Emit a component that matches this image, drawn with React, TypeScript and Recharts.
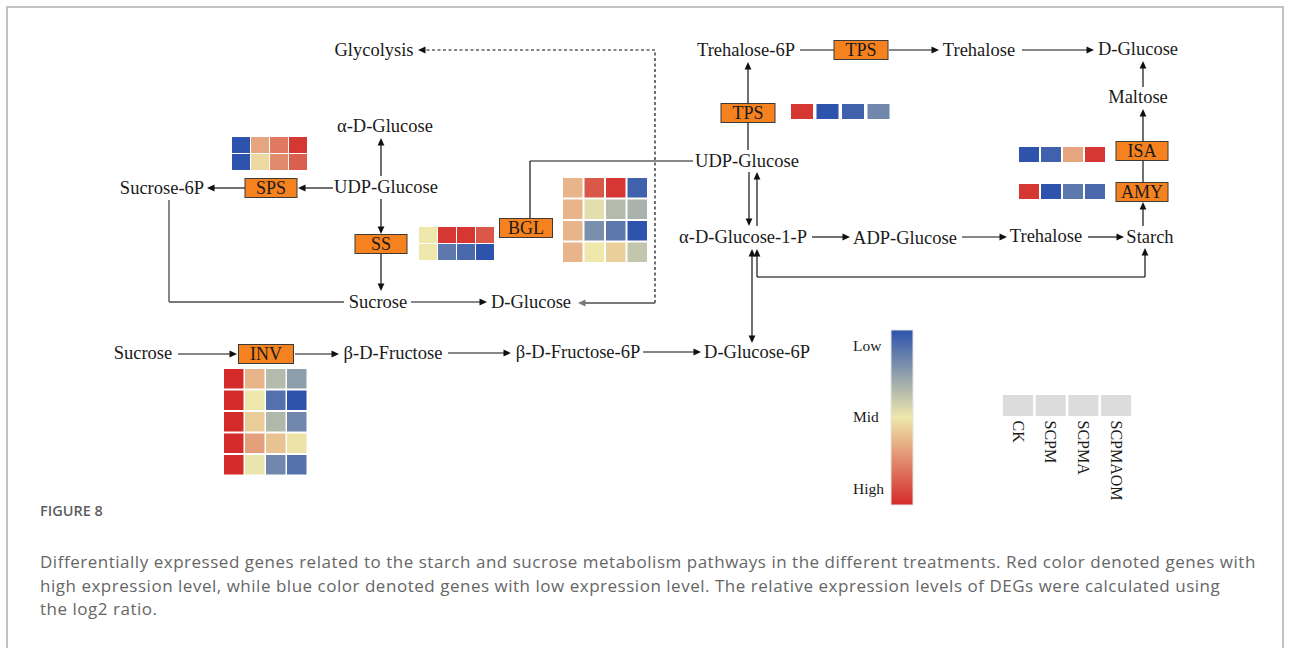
import React from "react";
import {
  ScatterChart,
  Scatter,
  XAxis,
  YAxis,
  ReferenceLine,
  ReferenceArea,
} from "recharts";

// metabolites (label centres in diagram units, 1 unit = 1px)
const metabolites = [
  { label: "Glycolysis", x: 374, y: 50 },
  { label: "α-D-Glucose", x: 385, y: 126 },
  { label: "UDP-Glucose", x: 386, y: 187 },
  { label: "Sucrose-6P", x: 162, y: 188 },
  { label: "Sucrose", x: 378, y: 302 },
  { label: "D-Glucose", x: 531, y: 302 },
  { label: "Sucrose", x: 143, y: 353 },
  { label: "β-D-Fructose", x: 393, y: 353 },
  { label: "β-D-Fructose-6P", x: 578, y: 352 },
  { label: "D-Glucose-6P", x: 757, y: 352 },
  { label: "Trehalose-6P", x: 746, y: 50 },
  { label: "Trehalose", x: 979, y: 50 },
  { label: "D-Glucose", x: 1138, y: 49 },
  { label: "Maltose", x: 1138, y: 97 },
  { label: "UDP-Glucose", x: 747, y: 161 },
  { label: "α-D-Glucose-1-P", x: 743, y: 237 },
  { label: "ADP-Glucose", x: 905, y: 238 },
  { label: "Trehalose", x: 1046, y: 236 },
  { label: "Starch", x: 1150, y: 237 },
];

const enzymes = [
  { label: "SPS", x: 271, y: 188, w: 52 },
  { label: "SS", x: 381, y: 244, w: 52 },
  { label: "BGL", x: 526, y: 228, w: 53 },
  { label: "INV", x: 266, y: 354, w: 55 },
  { label: "TPS", x: 861, y: 50, w: 54 },
  { label: "TPS", x: 748, y: 113, w: 54 },
  { label: "ISA", x: 1142, y: 151, w: 52 },
  { label: "AMY", x: 1142, y: 192, w: 52 },
];

// kind: arrow = black with head, both = head at each end, line = plain, gray = grey connector, dash = dashed arrow
const edges = [
  { from: [655, 303], to: [655, 50], kind: "dashLine" },
  { from: [655, 50], to: [418, 50], kind: "dash" },
  { from: [655, 303], to: [578, 303], kind: "grayArrow" },
  { from: [381, 176], to: [381, 138], kind: "arrow" },
  { from: [381, 199], to: [381, 234], kind: "arrow" },
  { from: [381, 254], to: [381, 291], kind: "arrow" },
  { from: [411, 302], to: [487, 302], kind: "arrow" },
  { from: [333, 188], to: [298, 188], kind: "arrow" },
  { from: [245, 188], to: [207, 188], kind: "arrow" },
  { from: [169, 200], to: [169, 302], kind: "gray" },
  { from: [169, 302], to: [344, 302], kind: "gray" },
  { from: [530, 218], to: [530, 161], kind: "line" },
  { from: [530, 161], to: [693, 161], kind: "line" },
  { from: [178, 354], to: [237, 354], kind: "arrow" },
  { from: [295, 354], to: [339, 354], kind: "arrow" },
  { from: [448, 353], to: [511, 353], kind: "arrow" },
  { from: [643, 352], to: [701, 352], kind: "arrow" },
  { from: [752, 249], to: [752, 343], kind: "both" },
  { from: [749, 172], to: [749, 226], kind: "arrow" },
  { from: [757, 226], to: [757, 172], kind: "arrow" },
  { from: [757, 277], to: [1145, 277], kind: "gray" },
  { from: [757, 277], to: [757, 249], kind: "arrow" },
  { from: [1145, 277], to: [1145, 248], kind: "arrow" },
  { from: [812, 237], to: [850, 237], kind: "arrow" },
  { from: [962, 237], to: [1007, 237], kind: "arrow" },
  { from: [1088, 237], to: [1124, 237], kind: "arrow" },
  { from: [1143, 226], to: [1143, 202], kind: "arrow" },
  { from: [1143, 183], to: [1143, 161], kind: "line" },
  { from: [1143, 142], to: [1143, 109], kind: "arrow" },
  { from: [1143, 87], to: [1143, 61], kind: "arrow" },
  { from: [748, 103], to: [748, 62], kind: "arrow" },
  { from: [748, 150], to: [748, 123], kind: "line" },
  { from: [800, 50], to: [834, 50], kind: "line" },
  { from: [889, 50], to: [939, 50], kind: "arrow" },
  { from: [1022, 50], to: [1094, 50], kind: "arrow" },
];

// expression levels per gene row (-1 low ... 1 high), columns CK, SCPM, SCPMA, SCPMAOM
const spsValues = [
  [-1, 0.35, 0.58, 0.93],
  [-1, 0.08, 0.49, 0.72],
];
const ssValues = [
  [0, 0.93, 0.93, 0.76],
  [0, -0.75, -0.85, -1],
];
const bglValues = [
  [0.27, 0.76, 0.93, -0.9],
  [0.27, -0.06, -0.3, -0.36],
  [0.27, -0.6, -0.75, -1],
  [0.27, 0, 0.13, -0.23],
];
const invValues = [
  [1, 0.27, -0.3, -0.5],
  [1, 0, -0.8, -1],
  [1, 0.15, -0.32, -0.65],
  [1, 0.38, 0.2, 0.03],
  [1, -0.02, -0.65, -0.8],
];
const tpsValues = [[0.93, -1, -0.9, -0.65]];
const isaValues = [[-1, -0.9, 0.35, 0.93]];
const amyValues = [[0.93, -1, -0.75, -0.85]];

const treatments = ["CK", "SCPM", "SCPMA", "SCPMAOM"];
const scaleLabels = [
  { label: "Low", y: 346 },
  { label: "Mid", y: 417 },
  { label: "High", y: 489 },
];

const heatmaps = [
  { values: spsValues, x0: 232, y0: 137, cw: 18, ch: 16, px: 19, py: 17 },
  { values: ssValues, x0: 419, y0: 227, cw: 18, ch: 16, px: 19, py: 17 },
  { values: bglValues, x0: 563, y0: 178, cw: 19.5, ch: 19.5, px: 21.5, py: 21.5 },
  { values: invValues, x0: 224, y0: 369, cw: 19.5, ch: 19.5, px: 21, py: 21.5 },
  { values: tpsValues, x0: 791, y0: 104, cw: 22, ch: 15, px: 25.5, py: 17 },
  { values: isaValues, x0: 1019, y0: 147, cw: 20, ch: 15, px: 22, py: 17 },
  { values: amyValues, x0: 1019, y0: 184, cw: 20, ch: 15, px: 22, py: 17 },
];

const LOW = [45, 83, 172];
const MID = [238, 232, 172];
const HIGH = [212, 42, 42];

const mix = (a: number[], b: number[], t: number) =>
  `rgb(${a.map((c, i) => Math.round(c + (b[i] - c) * t)).join(",")})`;
const heatColor = (v: number) => (v < 0 ? mix(MID, LOW, -v) : mix(MID, HIGH, v));

const cells = heatmaps.flatMap((h) =>
  h.values.flatMap((row, r) =>
    row.map((v, c) => ({
      x: h.x0 + c * h.px + h.cw / 2,
      y: h.y0 + r * h.py + h.ch / 2,
      v,
      cw: h.cw,
      ch: h.ch,
    }))
  )
);

const swatches = treatments.map((t, i) => ({ label: t, x: 1018 + i * 32.7, y: 405.5 }));

const FONT = "'Liberation Serif', 'Times New Roman', serif";
const INK = "#1a1a1a";

const MetaboliteShape = (p: any) => (
  <text x={p.cx} y={p.cy} dy="0.35em" textAnchor="middle" fontFamily={FONT} fontSize={18.5} fill={INK}>
    {p.payload.label}
  </text>
);

const EnzymeShape = (p: any) => (
  <g>
    <rect x={p.cx - p.payload.w / 2} y={p.cy - 9.5} width={p.payload.w} height={19} fill="#f5821f" stroke="#3a3a3a" strokeWidth={1} />
    <text x={p.cx} y={p.cy} dy="0.36em" textAnchor="middle" fontFamily={FONT} fontSize={18} fill={INK}>
      {p.payload.label}
    </text>
  </g>
);

const CellShape = (p: any) => (
  <rect
    x={p.cx - p.payload.cw / 2}
    y={p.cy - p.payload.ch / 2}
    width={p.payload.cw}
    height={p.payload.ch}
    fill={heatColor(p.payload.v)}
  />
);

const SwatchShape = (p: any) => (
  <g>
    <rect x={p.cx - 15} y={p.cy - 10.5} width={30} height={21} fill="#dcdcdc" />
    <text
      x={p.cx}
      y={p.cy + 15}
      transform={`rotate(90 ${p.cx} ${p.cy + 15})`}
      dominantBaseline="central"
      fontFamily={FONT}
      fontSize={16}
      fill={INK}
    >
      {p.payload.label}
    </text>
  </g>
);

const ScaleLabelShape = (p: any) => (
  <text x={p.cx} y={p.cy} dy="0.35em" fontFamily={FONT} fontSize={15.5} fill={INK}>
    {p.payload.label}
  </text>
);

const head = (tx: number, ty: number, ux: number, uy: number, fill: string) => {
  const L = 7.5;
  const W = 3.4;
  const bx = tx - ux * L;
  const by = ty - uy * L;
  return (
    <polygon
      points={`${tx},${ty} ${bx - uy * W},${by + ux * W} ${bx + uy * W},${by - ux * W}`}
      fill={fill}
    />
  );
};

const makeEdge = (kind: string) => (p: any) => {
  const { x1, y1, x2, y2 } = p;
  const len = Math.hypot(x2 - x1, y2 - y1) || 1;
  const ux = (x2 - x1) / len;
  const uy = (y2 - y1) / len;
  const gray = kind === "gray" || kind === "grayArrow";
  const color = gray ? "#7a7a7a" : "#111";
  const endHead = kind === "arrow" || kind === "both" || kind === "dash" || kind === "grayArrow";
  const startHead = kind === "both";
  const sx = startHead ? x1 + ux * 6 : x1;
  const sy = startHead ? y1 + uy * 6 : y1;
  const ex = endHead ? x2 - ux * 6 : x2;
  const ey = endHead ? y2 - uy * 6 : y2;
  const dashed = kind === "dash" || kind === "dashLine";
  return (
    <g>
      <line
        x1={sx}
        y1={sy}
        x2={ex}
        y2={ey}
        stroke={color}
        strokeWidth={gray ? 1.8 : 1.2}
        strokeDasharray={dashed ? "3 2.5" : undefined}
      />
      {endHead && head(x2, y2, ux, uy, color)}
      {startHead && head(x1, y1, -ux, -uy, color)}
    </g>
  );
};

const captionLines = [
  "Differentially expressed genes related to the starch and sucrose metabolism pathways in the different treatments. Red color denoted genes with",
  "high expression level, while blue color denoted genes with low expression level. The relative expression levels of DEGs were calculated using",
  "the log2 ratio.",
];

const App: React.FC = () => {
  return (
    <div style={{ position: "absolute", left: 0, top: 0, width: 1292, height: 648, background: "#fff", overflow: "hidden" }}>
      <div
        style={{
          position: "absolute",
          left: 6,
          top: 6,
          width: 1278,
          height: 700,
          border: "2px solid #c2c2c2",
          boxSizing: "border-box",
        }}
      />
      <div style={{ position: "absolute", left: 0, top: 0 }}>
        <ScatterChart width={1292} height={648} margin={{ top: 0, right: 0, bottom: 0, left: 0 }}>
          <defs>
            <linearGradient id="cbar" x1="0" y1="0" x2="0" y2="1">
              <stop offset="0%" stopColor={heatColor(-1)} />
              <stop offset="25%" stopColor={heatColor(-0.5)} />
              <stop offset="50%" stopColor={heatColor(0)} />
              <stop offset="75%" stopColor={heatColor(0.5)} />
              <stop offset="100%" stopColor={heatColor(1)} />
            </linearGradient>
          </defs>
          <XAxis type="number" dataKey="x" domain={[0, 1292]} hide allowDataOverflow />
          <YAxis type="number" dataKey="y" domain={[0, 648]} reversed hide allowDataOverflow />
          {edges.map((e, i) => (
            <ReferenceLine
              key={i}
              segment={[
                { x: e.from[0], y: e.from[1] },
                { x: e.to[0], y: e.to[1] },
              ]}
              shape={makeEdge(e.kind)}
              ifOverflow="visible"
            />
          ))}
          <ReferenceArea x1={891} x2={913} y1={330} y2={505} fill="url(#cbar)" fillOpacity={1} stroke="#e4e4e4" ifOverflow="visible" />
          <Scatter data={cells} shape={CellShape} isAnimationActive={false} />
          <Scatter data={enzymes} shape={EnzymeShape} isAnimationActive={false} />
          <Scatter data={metabolites} shape={MetaboliteShape} isAnimationActive={false} />
          <Scatter data={swatches} shape={SwatchShape} isAnimationActive={false} />
          <Scatter data={scaleLabels.map((s) => ({ ...s, x: 853 }))} shape={ScaleLabelShape} isAnimationActive={false} />
        </ScatterChart>
      </div>
      <div
        style={{
          position: "absolute",
          left: 40,
          top: 501,
          fontFamily: "'Open Sans', Lato, sans-serif",
          fontSize: 14.5,
          fontWeight: 600,
          color: "#5e5e5e",
        }}
      >
        FIGURE 8
      </div>
      <div
        style={{
          position: "absolute",
          left: 40,
          top: 550,
          fontFamily: "'Open Sans', Lato, sans-serif",
          fontSize: 17,
          letterSpacing: 0.52,
          lineHeight: "23.5px",
          color: "#666",
          whiteSpace: "nowrap",
        }}
      >
        {captionLines.map((l, i) => (
          <div key={i}>{l}</div>
        ))}
      </div>
    </div>
  );
};

export default App;
